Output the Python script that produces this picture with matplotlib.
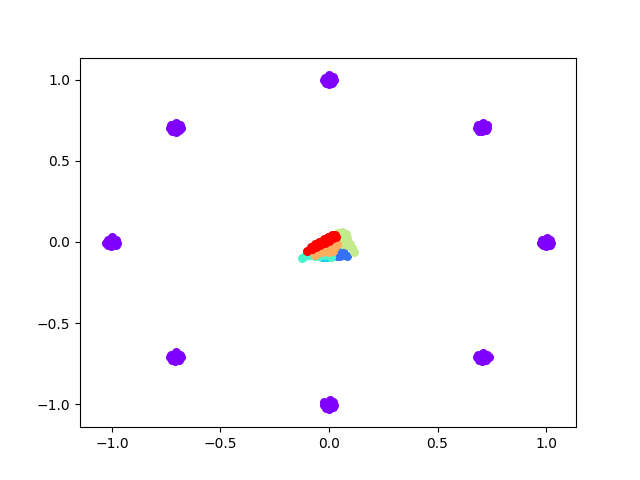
import matplotlib
matplotlib.use('Agg')
import matplotlib.pyplot as plt

# real samples: 8 gaussian modes on the unit circle, a handful of points per mode
real_x = [
    0.000, -0.020, 0.020, -0.015, 0.016, 0.002, 0.000, -0.024, 0.024,
    0.707, 0.686, 0.726, 0.690, 0.724, 0.709, 0.705, 0.682, 0.730,
    1.000, 0.980, 1.020, 0.984, 1.018, 1.003, 1.000, 0.976, 1.024,
    0.707, 0.686, 0.728, 0.690, 0.724, 0.709, 0.703, 0.684, 0.738,
    0.000, -0.021, 0.020, -0.016, 0.017, 0.003, -0.002, -0.024, 0.025,
    -0.707, -0.727, -0.687, -0.722, -0.690, -0.705, -0.707, -0.731, -0.683,
    -1.000, -1.020, -0.980, -1.016, -0.983, -0.998, -1.003, -1.025, -0.976,
    -0.707, -0.728, -0.686, -0.723, -0.691, -0.705, -0.709, -0.731, -0.684,
]
real_y = [
    1.000, 1.012, 1.014, 0.978, 0.980, 1.028, 0.973, 0.996, 0.997,
    0.707, 0.719, 0.720, 0.686, 0.688, 0.733, 0.681, 0.703, 0.704,
    0.000, 0.012, 0.013, -0.022, -0.020, 0.027, -0.027, -0.005, -0.004,
    -0.707, -0.695, -0.694, -0.728, -0.726, -0.683, -0.735, -0.711, -0.712,
    -1.000, -0.988, -0.987, -1.022, -1.020, -0.974, -1.028, -1.005, -1.004,
    0.707, 0.719, 0.720, 0.686, 0.687, 0.733, 0.680, 0.703, 0.704,
    0.000, 0.013, 0.012, -0.022, -0.021, 0.028, -0.027, -0.004, -0.005,
    -0.707, -0.695, -0.694, -0.729, -0.727, -0.681, -0.736, -0.712, -0.710,
]

# generated samples at successive training steps (colour level in rainbow)
levels = [0.15, 0.30, 0.40, 0.63, 0.76, 1.00]
gen_x = [
    [0.035, 0.045, 0.050, 0.060, 0.075, 0.085, 0.065, 0.050],
    [-0.020, -0.010, -0.030],
    [-0.125, -0.112, -0.100, -0.088, -0.065, -0.045, -0.025, -0.005, 0.010, -0.095],
    [0.040, 0.060, 0.080, 0.030, 0.055, 0.085, 0.040, 0.070, 0.095,
     0.060, 0.085, 0.105, 0.115, 0.030],
    [-0.065, -0.050, -0.030, -0.010, 0.010, 0.030, 0.035, 0.020, 0.000],
    [-0.100, -0.080, -0.060, -0.040, -0.020, 0.000, 0.020, 0.032,
     -0.085, -0.065, -0.045, -0.025, -0.005, 0.015, 0.028],
]
gen_y = [
    [-0.085, -0.060, -0.040, -0.075, -0.080, -0.085, -0.055, -0.085],
    [-0.095, -0.090, -0.092],
    [-0.100, -0.085, -0.068, -0.080, -0.085, -0.088, -0.082, -0.082, -0.090, -0.055],
    [0.055, 0.060, 0.050, 0.030, 0.030, 0.025, 0.005, 0.000, -0.010,
     -0.012, -0.022, -0.040, -0.060, 0.010],
    [-0.082, -0.070, -0.060, -0.050, -0.040, -0.030, -0.010, -0.055, -0.065],
    [-0.055, -0.042, -0.030, -0.020, -0.005, 0.008, 0.022, 0.032,
     -0.030, -0.015, 0.000, 0.015, 0.028, 0.040, 0.045],
]

cmap = plt.get_cmap('rainbow')

plt.figure(figsize=(6.4, 4.8), dpi=100)
plt.scatter(real_x, real_y, s=30, color=cmap(0.0))
for lev, xs, ys in zip(levels, gen_x, gen_y):
    plt.scatter(xs, ys, s=30, color=cmap(lev))
plt.xlim(-1.147, 1.138)
plt.ylim(-1.142, 1.136)
plt.xticks([-1.0, -0.5, 0.0, 0.5, 1.0])
plt.yticks([-1.0, -0.5, 0.0, 0.5, 1.0])
plt.savefig('out.png')
